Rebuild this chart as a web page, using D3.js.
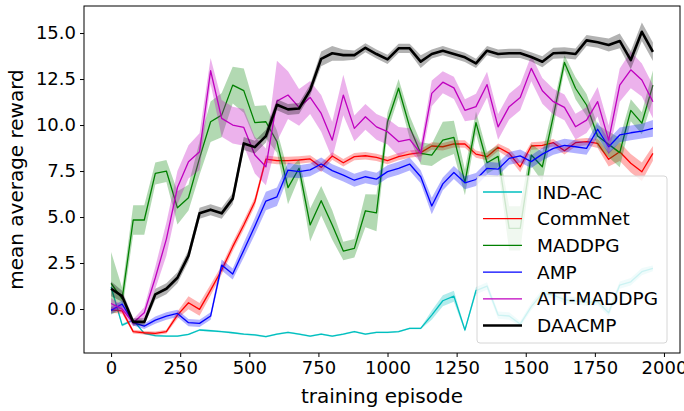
<!DOCTYPE html>
<html>
<head>
<meta charset="utf-8">
<script src="https://cdn.jsdelivr.net/npm/d3@7"></script>
<style>
  body { margin: 0; background: #fff; }
  text { font-family: "DejaVu Sans", sans-serif; }
</style>
</head>
<body>
<svg id="chart" width="684" height="411"></svg>
<script>
// episodes sampled every 40 steps
const episodes = d3.range(0, 2000, 40);

const seriesNames = ['IND-AC', 'CommNet', 'MADDPG', 'AMP', 'ATT-MADDPG', 'DAACMP'];
const seriesColors = ['#00bfbf', '#ff0000', '#008000', '#0000ff', '#bf00bf', '#000000'];

const indAC = [1.2, -0.87, -0.6, -1.32, -1.45, -1.47, -1.47, -1.38, -1.14, -1.18,
  -1.23, -1.29, -1.36, -1.41, -1.5, -1.36, -1.27, -1.36, -1.47, -1.36,
  -1.47, -1.36, -1.23, -1.36, -1.27, -1.27, -1.23, -1.05, -1.05, -0.33,
  0.45, 0.7, -1.14, 1.0, 1.25, -0.33, -0.38, -0.82, 0.13, 0.85,
  0.76, 0.51, 0.44, 0.38, 0.4, -0.2, 1.3, 1.48, 2.03, 2.21];
const indACSpread = [0.1, 0.08, 0.05, 0.05, 0.05, 0.05, 0.05, 0.05, 0.05, 0.05,
  0.05, 0.05, 0.05, 0.05, 0.05, 0.05, 0.05, 0.05, 0.05, 0.05,
  0.05, 0.05, 0.05, 0.05, 0.05, 0.05, 0.05, 0.05, 0.05, 0.25,
  0.3, 0.3, 0.1, 0.2, 0.2, 0.2, 0.2, 0.15, 0.2, 0.2,
  0.2, 0.2, 0.2, 0.2, 0.2, 0.2, 0.2, 0.2, 0.2, 0.15];

const commNet = [-0.05, -0.1, -1.23, -1.29, -1.32, -1.23, -0.33, 0.34, -0.02, 1.03,
  2.12, 3.39, 4.57, 5.83, 8.15, 8.07, 8.07, 8.1, 8.16, 7.7,
  8.32, 7.95, 8.28, 8.33, 8.24, 8.07, 8.28, 8.42, 8.5, 8.86,
  8.82, 8.98, 8.97, 8.42, 8.28, 8.79, 8.46, 7.73, 8.86, 8.9,
  9.04, 8.6, 9.04, 9.1, 9.0, 8.14, 8.55, 7.92, 7.46, 8.46];
const commNetSpread = [0.15, 0.15, 0.1, 0.1, 0.1, 0.1, 0.2, 0.35, 0.35, 0.3,
  0.25, 0.25, 0.25, 0.25, 0.2, 0.2, 0.2, 0.2, 0.2, 0.25,
  0.2, 0.2, 0.2, 0.2, 0.2, 0.2, 0.2, 0.2, 0.2, 0.2,
  0.2, 0.2, 0.2, 0.2, 0.2, 0.2, 0.25, 0.3, 0.2, 0.2,
  0.2, 0.2, 0.2, 0.2, 0.25, 0.4, 0.5, 0.5, 0.5, 0.4];

const maddpg = [1.4, 0.55, 4.84, 4.84, 7.37, 7.5, 5.5, 6.05, 8.2, 10.18,
  10.54, 12.17, 11.87, 10.13, 10.18, 9.1, 6.6, 7.65, 4.57, 5.89,
  4.57, 3.15, 3.3, 5.34, 5.23, 10.18, 12.0, 9.9, 8.46, 8.37,
  9.18, 9.33, 6.88, 10.13, 7.95, 8.3, 4.38, 4.38, 8.37, 7.73,
  10.5, 13.4, 12.0, 11.09, 9.4, 8.95, 8.5, 10.8, 10.1, 12.17];
const maddpgSpread = [1.7, 0.6, 0.8, 0.8, 0.6, 0.6, 0.9, 0.7, 0.9, 1.1,
  1.2, 1.0, 1.2, 0.9, 0.9, 0.6, 0.9, 0.5, 0.9, 0.8,
  0.8, 0.5, 0.5, 0.9, 1.0, 0.5, 0.5, 0.6, 0.6, 0.6,
  1.0, 0.9, 0.7, 0.6, 0.6, 0.6, 1.2, 1.2, 0.6, 0.8,
  0.6, 0.4, 0.6, 0.6, 0.6, 0.7, 0.8, 0.6, 0.6, 0.8];

const amp = [-0.07, 0.27, -0.74, -0.93, -0.6, -0.38, -0.24, -0.74, -0.78, -0.38,
  2.39, 1.9, 3.2, 4.5, 5.87, 6.1, 7.55, 7.47, 7.56, 7.88,
  7.52, 7.28, 7.0, 7.19, 7.06, 7.47, 7.65, 7.88, 7.19, 5.6,
  6.8, 7.42, 6.86, 7.04, 7.65, 7.6, 8.19, 8.32, 8.01, 8.42,
  8.73, 8.9, 8.82, 8.73, 9.77, 8.82, 9.46, 9.58, 9.67, 9.82];
const ampSpread = [0.2, 0.2, 0.15, 0.15, 0.2, 0.2, 0.2, 0.2, 0.2, 0.2,
  0.3, 0.3, 0.4, 0.45, 0.5, 0.5, 0.4, 0.35, 0.35, 0.35,
  0.35, 0.35, 0.35, 0.35, 0.35, 0.35, 0.35, 0.35, 0.35, 0.45,
  0.35, 0.35, 0.35, 0.35, 0.35, 0.35, 0.35, 0.35, 0.35, 0.35,
  0.35, 0.35, 0.35, 0.35, 0.4, 0.4, 0.4, 0.4, 0.4, 0.45];

const attMaddpg = [0.3, 0.0, -0.75, -0.2, 1.7, 3.8, 6.6, 8.0, 8.55, 12.95,
  10.36, 10.0, 9.87, 8.37, 7.73, 11.3, 11.63, 10.96, 11.5, 10.63,
  9.18, 11.63, 9.82, 10.45, 9.9, 9.64, 9.1, 9.22, 8.46, 11.72,
  12.33, 12.02, 10.8, 11.0, 12.2, 9.9, 11.0, 11.5, 13.08, 11.86,
  11.27, 10.96, 9.91, 10.27, 11.27, 9.18, 12.17, 13.0, 12.45, 11.27];
const attMaddpgSpread = [0.3, 0.2, 0.2, 0.3, 0.6, 0.9, 0.9, 0.9, 1.0, 0.7,
  1.0, 1.0, 1.0, 1.0, 1.0, 2.2, 1.3, 1.0, 0.9, 1.0,
  1.0, 1.1, 0.7, 0.7, 0.7, 0.7, 0.8, 0.6, 0.5, 0.7,
  0.6, 0.6, 0.6, 0.7, 0.7, 0.7, 0.7, 0.7, 0.7, 0.7,
  0.7, 0.7, 0.7, 0.7, 0.8, 0.8, 0.9, 1.0, 0.9, 0.9];

const daacmp = [1.1, 0.7, -0.7, -0.7, 0.8, 1.1, 1.7, 2.9, 5.2, 5.4,
  5.2, 6.0, 9.0, 8.8, 9.4, 11.1, 10.85, 10.9, 11.9, 13.6,
  13.9, 13.8, 13.8, 14.2, 13.86, 13.57, 14.17, 14.17, 13.45, 13.86,
  14.04, 13.86, 13.68, 13.35, 14.04, 13.86, 13.9, 13.9, 13.7, 13.44,
  13.9, 13.93, 13.86, 14.6, 14.5, 14.35, 14.57, 13.53, 15.07, 13.98];
const daacmpSpread = [0.4, 0.3, 0.2, 0.2, 0.3, 0.3, 0.3, 0.3, 0.3, 0.3,
  0.3, 0.3, 0.35, 0.35, 0.35, 0.3, 0.3, 0.3, 0.3, 0.4,
  0.4, 0.3, 0.25, 0.25, 0.25, 0.25, 0.25, 0.25, 0.35, 0.25,
  0.25, 0.25, 0.25, 0.25, 0.25, 0.25, 0.25, 0.25, 0.25, 0.3,
  0.3, 0.3, 0.3, 0.3, 0.3, 0.35, 0.4, 0.5, 0.5, 0.5];

const seriesValues = [indAC, commNet, maddpg, amp, attMaddpg, daacmp];
const seriesSpreads = [indACSpread, commNetSpread, maddpgSpread, ampSpread, attMaddpgSpread, daacmpSpread];

const xTicks = [0, 250, 500, 750, 1000, 1250, 1500, 1750, 2000];
const yTicks = [0, 2.5, 5, 7.5, 10, 12.5, 15];

const plot = {left: 84, right: 680, top: 6, bottom: 353};

const svg = d3.select('#chart');

const x = d3.scaleLinear().domain([-98, 2058]).range([plot.left, plot.right]);
const y = d3.scaleLinear().domain([-2.39, 16.47]).range([plot.bottom, plot.top]);

svg.append('defs').append('clipPath').attr('id', 'clip')
  .append('rect')
  .attr('x', plot.left).attr('y', plot.top)
  .attr('width', plot.right - plot.left).attr('height', plot.bottom - plot.top);

const dataG = svg.append('g').attr('clip-path', 'url(#clip)');

seriesValues.forEach((vals, i) => {
  const spread = seriesSpreads[i];
  const rows = episodes.map((e, j) => ({e, v: vals[j], s: spread[j]}));
  const area = d3.area()
    .x(d => x(d.e))
    .y0(d => y(d.v - d.s))
    .y1(d => y(d.v + d.s));
  const line = d3.line()
    .x(d => x(d.e))
    .y(d => y(d.v));
  dataG.append('path')
    .attr('d', area(rows))
    .attr('fill', seriesColors[i])
    .attr('fill-opacity', 0.3)
    .attr('stroke', 'none');
  dataG.append('path')
    .attr('d', line(rows))
    .attr('fill', 'none')
    .attr('stroke', seriesColors[i])
    .attr('stroke-width', i === 5 ? 2.6 : 1.3)
    .attr('stroke-linejoin', 'round');
});

// axes
const xAxis = d3.axisBottom(x).tickValues(xTicks).tickSize(4).tickPadding(4)
  .tickFormat(d3.format('d'));
const gx = svg.append('g')
  .attr('transform', `translate(0,${plot.bottom})`)
  .call(xAxis);
gx.select('.domain').remove();
gx.selectAll('text').attr('font-size', 18).attr('fill', '#000')
  .style('font-family', '"DejaVu Sans", sans-serif');
gx.selectAll('line').attr('stroke', '#000');

const yAxis = d3.axisLeft(y).tickValues(yTicks).tickSize(4).tickPadding(4)
  .tickFormat(d3.format('.1f'));
const gy = svg.append('g')
  .attr('transform', `translate(${plot.left},0)`)
  .call(yAxis);
gy.select('.domain').remove();
gy.selectAll('text').attr('font-size', 18).attr('fill', '#000')
  .style('font-family', '"DejaVu Sans", sans-serif');
gy.selectAll('line').attr('stroke', '#000');

// frame
svg.append('rect')
  .attr('x', plot.left).attr('y', plot.top)
  .attr('width', plot.right - plot.left).attr('height', plot.bottom - plot.top)
  .attr('fill', 'none').attr('stroke', '#000').attr('stroke-width', 1);

// axis titles
svg.append('text')
  .attr('x', (plot.left + plot.right) / 2)
  .attr('y', 403)
  .attr('text-anchor', 'middle')
  .attr('font-size', 20)
  .text('training episode');

svg.append('text')
  .attr('transform', `translate(23,${(plot.top + plot.bottom) / 2}) rotate(-90)`)
  .attr('text-anchor', 'middle')
  .attr('font-size', 20)
  .text('mean average reward');

// legend
const legend = svg.append('g').attr('transform', 'translate(477,176)');
legend.append('rect')
  .attr('width', 190).attr('height', 167)
  .attr('rx', 3).attr('ry', 3)
  .attr('fill', '#fff').attr('fill-opacity', 0.8)
  .attr('stroke', '#d6d6d6').attr('stroke-width', 1);

seriesNames.forEach((name, i) => {
  const cy = 16 + i * 26.7;
  legend.append('line')
    .attr('x1', 6).attr('x2', 45)
    .attr('y1', cy).attr('y2', cy)
    .attr('stroke', seriesColors[i])
    .attr('stroke-width', i === 5 ? 2.6 : 1.3);
  legend.append('text')
    .attr('x', 60).attr('y', cy + 6.5)
    .attr('font-size', 18.5)
    .text(name);
});
</script>
</body>
</html>
